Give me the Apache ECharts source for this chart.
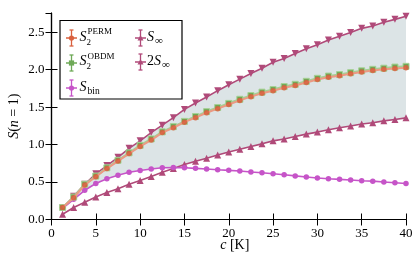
<!DOCTYPE html>
<html><head><meta charset="utf-8">
<script src="https://cdn.jsdelivr.net/npm/echarts@6/dist/echarts.min.js"></script>
<style>html,body{margin:0;padding:0;background:#fff}#c{width:415px;height:256px}</style>
</head><body><div id="c"></div>
<script>
const cValues = [1.25,2.5,3.75,5,6.25,7.5,8.75,10,11.25,12.5,13.75,15,16.25,17.5,18.75,20,21.25,22.5,23.75,25,26.25,27.5,28.75,30,31.25,32.5,33.75,35,36.25,37.5,38.75,40];
const s2Perm = [0.16,0.29,0.46,0.57,0.68,0.78,0.88,0.975,1.06,1.16,1.225,1.30,1.36,1.425,1.48,1.535,1.59,1.64,1.685,1.72,1.76,1.79,1.83,1.87,1.90,1.92,1.945,1.97,1.99,2.005,2.015,2.025];
const s2Obdm = [0.16,0.30,0.47,0.58,0.69,0.79,0.89,0.99,1.075,1.17,1.24,1.31,1.375,1.44,1.495,1.55,1.605,1.655,1.70,1.735,1.775,1.805,1.845,1.885,1.915,1.935,1.96,1.985,2.005,2.02,2.035,2.045];
const sBin = [0.15,0.27,0.39,0.48,0.545,0.59,0.63,0.655,0.675,0.69,0.695,0.69,0.683,0.675,0.665,0.656,0.647,0.635,0.624,0.61,0.598,0.582,0.568,0.555,0.545,0.536,0.527,0.518,0.512,0.50,0.49,0.48];
const sInf = [0.07,0.16,0.23,0.30,0.36,0.41,0.47,0.52,0.575,0.63,0.68,0.735,0.778,0.818,0.86,0.90,0.937,0.975,1.01,1.05,1.075,1.108,1.14,1.167,1.198,1.224,1.248,1.276,1.292,1.317,1.336,1.357];
const twoSInf = [0.15,0.31,0.47,0.61,0.72,0.83,0.95,1.05,1.16,1.26,1.36,1.47,1.556,1.636,1.72,1.80,1.874,1.95,2.02,2.10,2.15,2.216,2.28,2.334,2.396,2.448,2.496,2.552,2.584,2.634,2.672,2.714];
const xTicks = [0,5,10,15,20,25,30,35,40];
const yTicks = [0.0,0.5,1.0,1.5,2.0,2.5];

const pairs = ys => cValues.map((x,i)=>[x, ys[i]]);
const bandData = cValues.map((x,i)=>[x, Math.max(sBin[i], sInf[i]), twoSInf[i]]);

const FONT = 'Liberation Serif';
const C_PERM = '#d9603e', C_PERM_L = '#eb9a84';
const C_OBDM = '#6ea957', C_OBDM_L = '#a6d094';
const C_BIN = '#c654c8';
const C_INF = '#b04a79';
const FILL = '#dce4e6';

const chart = echarts.init(document.getElementById('c'), null, {renderer:'canvas'});

function errIcon(cx, cy, color, symbol) {
  const els = [];
  const st = {stroke: color, lineWidth: 1.3};
  els.push({type:'line', shape:{x1:cx, y1:cy-8, x2:cx, y2:cy+8}, style:st});
  els.push({type:'line', shape:{x1:cx-2, y1:cy-8, x2:cx+2, y2:cy-8}, style:st});
  els.push({type:'line', shape:{x1:cx-2, y1:cy+8, x2:cx+2, y2:cy+8}, style:st});
  els.push({type:'line', shape:{x1:cx-5.5, y1:cy, x2:cx+5.5, y2:cy}, style:{stroke:color, lineWidth:1.5}});
  if (symbol === 'circle') els.push({type:'circle', shape:{cx:cx, cy:cy, r:2.6}, style:{fill:color}});
  else if (symbol === 'rect') els.push({type:'rect', shape:{x:cx-2.6, y:cy-2.6, width:5.2, height:5.2}, style:{fill:color}});
  else if (symbol === 'tri') els.push({type:'polygon', shape:{points:[[cx,cy-3],[cx+3,cy+2.4],[cx-3,cy+2.4]]}, style:{fill:color}});
  return els;
}
function txt(x, y, s, size, italic) {
  return {type:'text', x:x, y:y, style:{text:s, fill:'#000', font:(italic?'italic ':'') + size + 'px "' + FONT + '"', textVerticalAlign:'middle', textAlign:'left'}};
}

const legendEls = [
  {type:'rect', shape:{x:60, y:20.5, width:122, height:78.5}, style:{fill:'#fff', stroke:'#000', lineWidth:1.2}},
  ...errIcon(71.5, 38, C_PERM, 'circle'),
  txt(79.5, 37, 'S', 14, true), txt(86.5, 42.5, '2', 9, false), txt(87.5, 31.5, 'PERM', 9, false),
  ...errIcon(71.5, 63, C_OBDM, 'rect'),
  txt(79.5, 61.5, 'S', 14, true), txt(86.5, 67, '2', 9, false), txt(87.5, 56.5, 'OBDM', 9, false),
  ...errIcon(71.5, 88, C_BIN, 'circle'),
  txt(79.5, 87, 'S', 14, true), txt(87.5, 91, 'bin', 9.5, false),
  ...errIcon(140.5, 38, C_INF, 'tri'),
  txt(147, 37, 'S', 14, true), txt(155, 41, '∞', 11, false),
  ...errIcon(140.5, 62, C_INF, 'tri'),
  txt(147, 61, '2', 14, false), txt(154, 61, 'S', 14, true), txt(162, 65, '∞', 11, false)
];

const axisCommon = {
  axisLine:{show:true, lineStyle:{color:'#000', width:1.2}},
  axisTick:{show:true, inside:true, length:6, lineStyle:{color:'#000', width:1}},
  splitLine:{show:false}
};

chart.setOption({
  animation:false,
  grid:{left:51.5, right:9, top:13, bottom:36.5, containLabel:false, outerBoundsMode:'none'},
  xAxis:[
    Object.assign({type:'value', min:0, max:40, interval:5, position:'bottom',
      name:'{i|c} [K]', nameLocation:'middle', nameGap:19, nameMoveOverlap:false,
      nameTextStyle:{fontFamily:FONT, fontSize:14, color:'#000', padding:[0,0,0,12], rich:{i:{fontFamily:FONT, fontStyle:'italic', fontSize:14, color:'#000'}}},
      axisLabel:{fontFamily:FONT, fontSize:13, color:'#000', margin:8, formatter: v => xTicks.includes(v) ? String(v) : ''}}, axisCommon),
    Object.assign({type:'value', min:0, max:40, interval:5, position:'top', axisLabel:{show:false}}, axisCommon)
  ],
  yAxis:[
    Object.assign({type:'value', min:0, max:2.757, interval:0.5, position:'left',
      name:'{i|S}({i|n} = 1)', nameLocation:'middle', nameGap:30, nameMoveOverlap:false,
      nameTextStyle:{fontFamily:FONT, fontSize:14, color:'#000', rich:{i:{fontFamily:FONT, fontStyle:'italic', fontSize:14, color:'#000'}}},
      axisLabel:{fontFamily:FONT, fontSize:13, color:'#000', margin:7, showMaxLabel:false,
        formatter: v => { const t = yTicks.find(k => Math.abs(k-v)<1e-6); return t===undefined ? '' : t.toFixed(1); }}}, axisCommon),
    Object.assign({type:'value', min:0, max:2.757, interval:0.5, position:'right', axisLabel:{show:false}}, axisCommon)
  ],
  series:[
    {type:'custom', name:'band', data:bandData, silent:true, z:1,
      encode:{x:0, y:[1,2]},
      renderItem:(params, api) => {
        if (params.dataIndex !== 0) return null;
        const pts = [];
        for (let i = 0; i < bandData.length; i++) pts.push(api.coord([bandData[i][0], bandData[i][2]]));
        for (let i = bandData.length - 1; i >= 0; i--) pts.push(api.coord([bandData[i][0], bandData[i][1]]));
        return {type:'polygon', shape:{points:pts}, style:{fill:FILL, stroke:null}};
      }},
    {type:'line', name:'S_inf', data:pairs(sInf), symbol:'triangle', symbolSize:7, itemStyle:{color:C_INF}, lineStyle:{color:C_INF, width:1.6}, z:3},
    {type:'line', name:'2S_inf', data:pairs(twoSInf), symbol:'triangle', symbolRotate:180, symbolSize:7, itemStyle:{color:C_INF}, lineStyle:{color:C_INF, width:1.6}, z:3},
    {type:'line', name:'S_bin', data:pairs(sBin), symbol:'circle', symbolSize:5.5, itemStyle:{color:C_BIN}, lineStyle:{color:C_BIN, width:1.6}, z:4},
    {type:'line', name:'S2_OBDM', data:pairs(s2Obdm), symbol:'rect', symbolSize:6, itemStyle:{color:C_OBDM, borderColor:C_OBDM_L, borderWidth:1}, lineStyle:{color:C_OBDM_L, width:2.2}, z:5},
    {type:'line', name:'S2_PERM', data:pairs(s2Perm), symbol:'circle', symbolSize:5.5, itemStyle:{color:C_PERM, opacity:0.85}, lineStyle:{color:C_PERM_L, width:2}, z:6}
  ],
  graphic: legendEls.map(e => Object.assign({z:100}, e))
});
</script></body></html>
